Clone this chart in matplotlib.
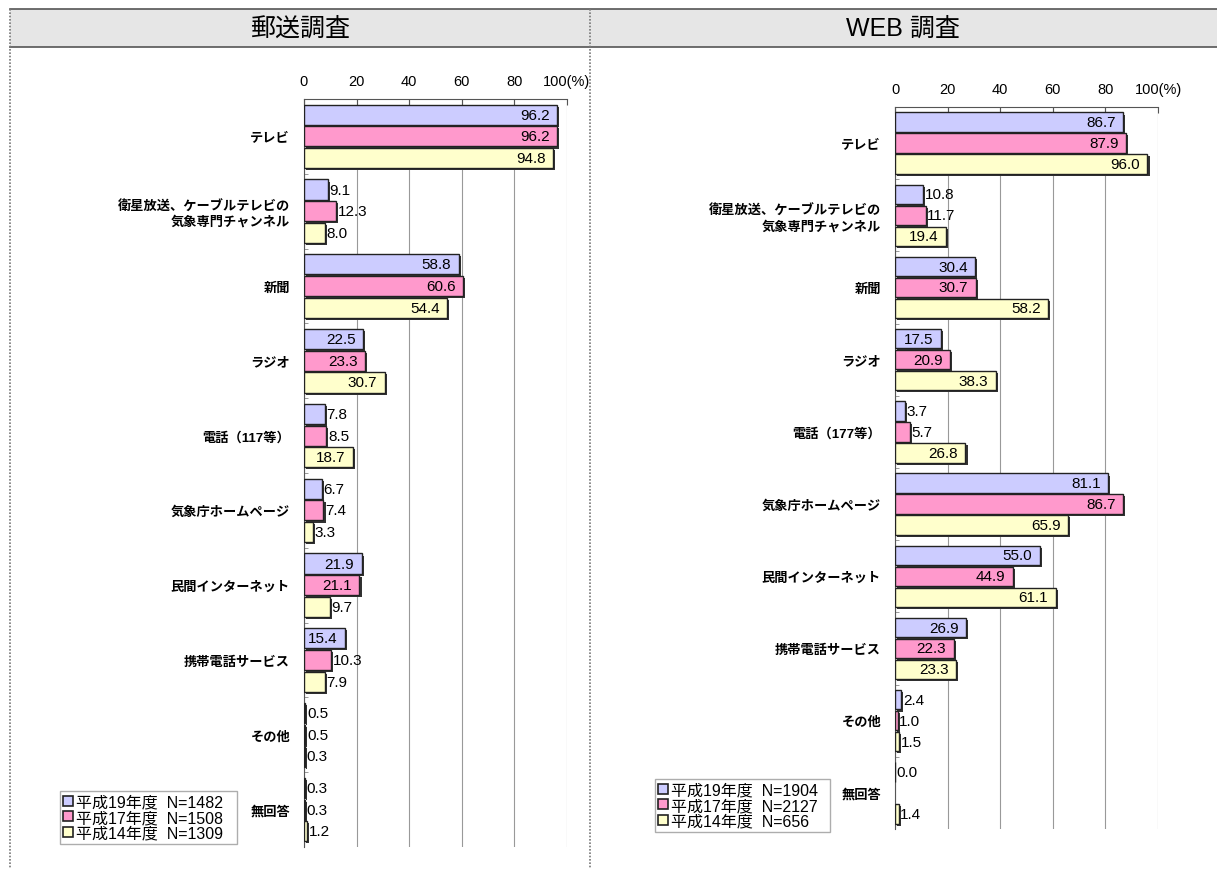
import matplotlib.pyplot as plt
import matplotlib.patheffects as pe
from matplotlib.patches import Rectangle
from matplotlib.lines import Line2D

plt.rcParams['font.family'] = ['Liberation Sans', 'Noto Sans CJK JP', 'DejaVu Sans']

# data
mail_categories = ['テレビ', '衛星放送、ケーブルテレビの\n気象専門チャンネル', '新聞', 'ラジオ',
                   '電話（117等）', '気象庁ホームページ', '民間インターネット', '携帯電話サービス',
                   'その他', '無回答']
web_categories = ['テレビ', '衛星放送、ケーブルテレビの\n気象専門チャンネル', '新聞', 'ラジオ',
                  '電話（177等）', '気象庁ホームページ', '民間インターネット', '携帯電話サービス',
                  'その他', '無回答']

mail_h19 = [96.2, 9.1, 58.8, 22.5, 7.8, 6.7, 21.9, 15.4, 0.5, 0.3]
mail_h17 = [96.2, 12.3, 60.6, 23.3, 8.5, 7.4, 21.1, 10.3, 0.5, 0.3]
mail_h14 = [94.8, 8.0, 54.4, 30.7, 18.7, 3.3, 9.7, 7.9, 0.3, 1.2]

web_h19 = [86.7, 10.8, 30.4, 17.5, 3.7, 81.1, 55.0, 26.9, 2.4, 0.0]
web_h17 = [87.9, 11.7, 30.7, 20.9, 5.7, 86.7, 44.9, 22.3, 1.0, None]
web_h14 = [96.0, 19.4, 58.2, 38.3, 26.8, 65.9, 61.1, 23.3, 1.5, 1.4]

mail_legend = ['平成19年度  N=1482', '平成17年度  N=1508', '平成14年度  N=1309']
web_legend = ['平成19年度  N=1904', '平成17年度  N=2127', '平成14年度  N=656']

colors = ['#ccccff', '#ff99cc', '#ffffcc']

W, H = 1217, 870
fig = plt.figure(figsize=(W / 100, H / 100), dpi=100)


def fx(px):
    return px / W


def fy(py):
    return 1 - py / H


# header band and panel separators
fig.patches.append(Rectangle((fx(10), fy(48)), fx(1207), 38 / H, transform=fig.transFigure,
                             facecolor='#e6e6e6', edgecolor='none', zorder=0))
for yy in (10, 48):
    fig.lines.append(Line2D([fx(10), 1], [fy(yy), fy(yy)], transform=fig.transFigure,
                            color='#555555', lw=1.2))
for xx in (10, 590):
    fig.lines.append(Line2D([fx(xx), fx(xx)], [fy(10), 0], transform=fig.transFigure,
                            color='#777777', lw=1.2, ls=(0, (1, 1))))
fig.text(fx(300), fy(29), '郵送調査', ha='center', va='center', fontsize=18)
fig.text(fx(903), fy(29), 'WEB 調査', ha='center', va='center', fontsize=18)

shadow = [pe.SimplePatchShadow(offset=(1.5, -1.5), shadow_rgbFace='#333333', alpha=1), pe.Normal()]


def draw_panel(box, cats, series, legend_labels, leg_box):
    x0, x1, y0, y1 = box
    ax = fig.add_axes([fx(x0), fy(y1), (x1 - x0) / W, (y1 - y0) / H])
    n = len(cats)
    bh = 0.29
    for i, (vals, c) in enumerate(zip(series, colors)):
        ys = [k + (i - 1) * bh for k in range(n)]
        for y, v in zip(ys, vals):
            if v is None:
                continue
            b = ax.barh(y, v, height=bh * 0.93, color=c, edgecolor='#222222', lw=1.0, zorder=3)
            b[0].set_path_effects(shadow)
            if v >= 13:
                ax.text(v - 2.8, y, f'{v:.1f}', ha='right', va='center', fontsize=11, zorder=4)
            else:
                ax.text(v + 0.6, y, f'{v:.1f}', ha='left', va='center', fontsize=11, zorder=4)
    ax.set_xlim(0, 100)
    ax.set_ylim(n - 0.5, -0.5)
    ax.set_yticks(range(n))
    ax.set_yticklabels(cats, fontsize=9.5, fontweight='bold', linespacing=1.25)
    ax.set_yticks([k + 0.5 for k in range(n - 1)], minor=True)
    ax.tick_params(axis='y', which='major', length=0, pad=10)
    ax.tick_params(axis='y', which='minor', length=3, direction='in', color='#888888')
    ax.xaxis.tick_top()
    ax.set_xticks([0, 20, 40, 60, 80, 100])
    ax.set_xticklabels(['0', '20', '40', '60', '80', '100(%)'], fontsize=10.5)
    ax.tick_params(axis='x', length=4, direction='in', pad=8, color='#555555')
    ax.grid(axis='x', color='#999999', lw=0.8, zorder=0)
    for s in ('right', 'bottom'):
        ax.spines[s].set_visible(False)
    ax.spines['top'].set_color('#555555')
    ax.spines['left'].set_color('#555555')
    handles = [Rectangle((0, 0), 1, 1, facecolor=c, edgecolor='#222222', lw=1.2) for c in colors]
    lx0, ly0, lx1, ly1 = leg_box
    fig.legend(handles, legend_labels, loc='lower left',
               bbox_to_anchor=(fx(lx0), fy(ly1), (lx1 - lx0) / W, (ly1 - ly0) / H),
               mode='expand', fontsize=11.5, frameon=True, fancybox=False, edgecolor='#999999',
               handlelength=0.6, handleheight=0.6, handletextpad=0.2, labelspacing=0.05,
               borderpad=0.2, borderaxespad=0)
    return ax


draw_panel((304, 567, 100, 848), mail_categories, [mail_h19, mail_h17, mail_h14],
           mail_legend, (60, 790, 237, 845))
draw_panel((895, 1158, 108, 830), web_categories, [web_h19, web_h17, web_h14],
           web_legend, (655, 778, 830, 833))

fig.savefig('out.png', dpi=100)
